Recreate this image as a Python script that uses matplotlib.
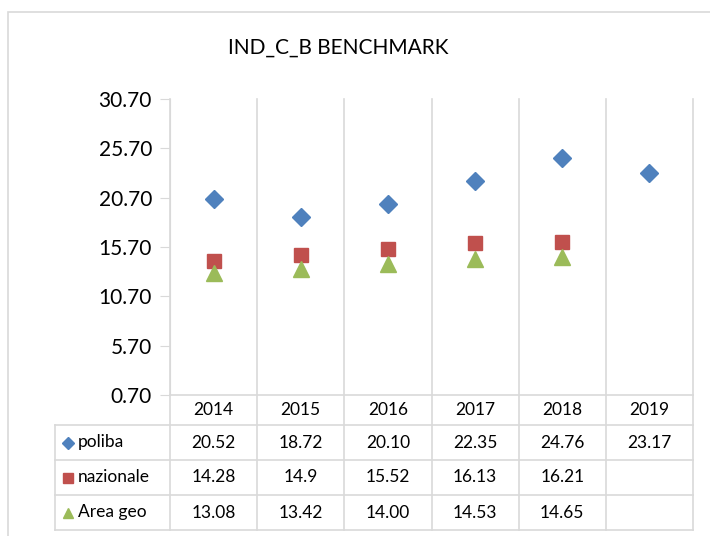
import matplotlib.pyplot as plt
from matplotlib.patches import Rectangle
from matplotlib.lines import Line2D

# --- dati ---
anni = ["2014", "2015", "2016", "2017", "2018", "2019"]
poliba = [20.52, 18.72, 20.10, 22.35, 24.76, 23.17]
nazionale = [14.28, 14.9, 15.52, 16.13, 16.21, None]
area_geo = [13.08, 13.42, 14.00, 14.53, 14.65, None]
etichette_poliba = ["20.52", "18.72", "20.10", "22.35", "24.76", "23.17"]
etichette_naz = ["14.28", "14.9", "15.52", "16.13", "16.21", ""]
etichette_geo = ["13.08", "13.42", "14.00", "14.53", "14.65", ""]
yticks = [0.70, 5.70, 10.70, 15.70, 20.70, 25.70, 30.70]

serie = [
    ("poliba", poliba, etichette_poliba, "D", "#4F81BD", 9),
    ("nazionale", nazionale, etichette_naz, "s", "#C0504D", 10),
    ("Area geo", area_geo, etichette_geo, "^", "#9BBB59", 11),
]

plt.rcParams['font.family'] = ['Lato', 'DejaVu Sans']
grigio = "#D9D9D9"

fig = plt.figure(figsize=(7.1, 5.36), dpi=100)
# bordo del grafico
fig.patches.append(Rectangle((8 / 710, -0.1), 1.1, 1 - 12 / 536 + 0.1, transform=fig.transFigure,
                             fill=False, edgecolor=grigio, linewidth=1.2))

ax = fig.add_axes([170 / 710, 1 - 395 / 536, 523 / 710, 296 / 536])
n = len(anni)
for nome, vals, _, mk, col, ms in serie:
    xs = [i for i, v in enumerate(vals) if v is not None]
    ys = [v for v in vals if v is not None]
    ax.plot(xs, ys, linestyle="none", marker=mk, color=col, markersize=ms)

ax.set_xlim(-0.5, n - 0.5)
ax.set_ylim(0.70, 30.70)
ax.set_yticks(yticks)
ax.set_yticklabels([f"{t:.2f}" for t in yticks], fontsize=15)
ax.set_xticks([])
for s in ["top", "right", "bottom"]:
    ax.spines[s].set_visible(False)
ax.spines["left"].set_color(grigio)
ax.tick_params(axis="y", length=7, color=grigio, pad=6)

# --- tabella dati sotto il grafico ---
tr = ax.transAxes
h_head = 30 / 296
h_row = 35 / 296
x_leg = (55 - 170) / 523
fondo = -(h_head + 3 * h_row)

# linee verticali (griglia + tabella)
for i in range(n + 1):
    x = i / n
    ax.add_line(Line2D([x, x], [fondo, 1], transform=tr, color=grigio, lw=1.2, clip_on=False))
ax.add_line(Line2D([x_leg, x_leg], [-h_head, fondo], transform=tr, color=grigio, lw=1.2, clip_on=False))
# linee orizzontali
ax.add_line(Line2D([0, 1], [0, 0], transform=tr, color=grigio, lw=1.2, clip_on=False))
for r in range(4):
    y = -h_head - r * h_row
    ax.add_line(Line2D([x_leg, 1], [y, y], transform=tr, color=grigio, lw=1.2, clip_on=False))

for i, a in enumerate(anni):
    ax.text((i + 0.5) / n, -h_head / 2, a, transform=tr, ha="center", va="center", fontsize=12.5)

for r, (nome, vals, etich, mk, col, ms) in enumerate(serie):
    yc = -h_head - (r + 0.5) * h_row
    ax.plot([x_leg + 13 / 523], [yc], marker=mk, color=col, markersize=ms * 0.7,
            transform=tr, clip_on=False, linestyle="none")
    ax.text(x_leg + 23 / 523, yc, nome, transform=tr, ha="left", va="center", fontsize=12.5)
    for i, t in enumerate(etich):
        ax.text((i + 0.5) / n, yc, t, transform=tr, ha="center", va="center", fontsize=12.5)

fig.text(338 / 710, 1 - 48 / 536, "IND_C_B BENCHMARK", ha="center", va="center", fontsize=15)

fig.savefig("out.png", dpi=100)
